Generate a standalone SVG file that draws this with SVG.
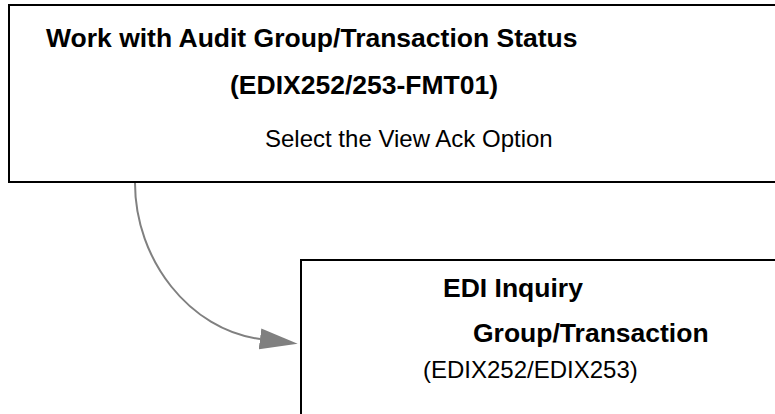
<svg xmlns="http://www.w3.org/2000/svg" width="775" height="414" viewBox="0 0 775 414">
<style>
.box{fill:#fff;stroke:#000;stroke-width:2}
.b{font-family:"Liberation Sans",Arial,sans-serif;font-weight:bold;font-size:26.5px;fill:#000}
.r{font-family:"Liberation Sans",Arial,sans-serif;font-size:24px;fill:#000}
.conn{fill:none;stroke:#808080;stroke-width:2}
</style>
<defs>
<marker id="ah" markerUnits="userSpaceOnUse" markerWidth="40" markerHeight="24" refX="0" refY="0" viewBox="0 -12 40 24" orient="auto">
<path d="M0,-10.5 L38,0 L0,10.5 z" fill="#808080"/>
</marker>
</defs>
<rect width="775" height="414" fill="#fff"/>
<g id="node-audit">
<rect class="box" x="9" y="5" width="780" height="177"/>
<text class="b" x="46" y="47">Work with Audit Group/Transaction Status</text>
<text class="b" x="230" y="94">(EDIX252/253-FMT01)</text>
<text class="r" x="265" y="147">Select the View Ack Option</text>
</g>
<g id="node-inquiry">
<rect class="box" x="301" y="260" width="490" height="170"/>
<text class="b" x="443" y="297">EDI Inquiry</text>
<text class="b" x="473" y="342">Group/Transaction</text>
<text class="r" x="423" y="378">(EDIX252/EDIX253)</text>
</g>
<g id="connectors">
<path class="conn" d="M135,183 C135,260 190,330 260,339" marker-end="url(#ah)"/>
</g>
</svg>
